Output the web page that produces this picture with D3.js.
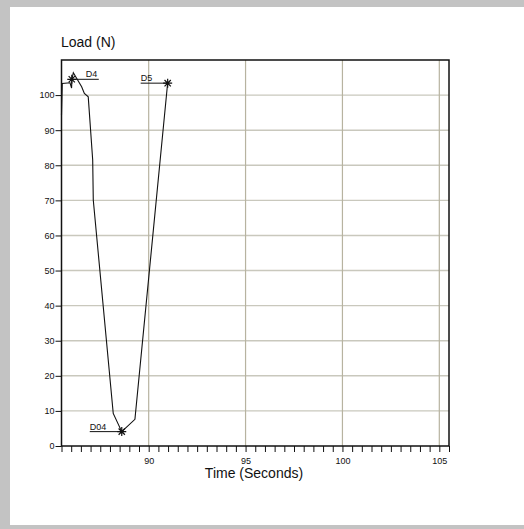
<!DOCTYPE html>
<html>
<head>
<meta charset="utf-8">
<script src="https://cdn.jsdelivr.net/npm/d3@7"></script>
<style>
  body { margin: 0; background: #c3c3c3; }
  text { font-family: "Liberation Sans", Arial, sans-serif; fill: #111; }
</style>
</head>
<body>
<div id="chart"></div>
<script>
// load curve
const times = [85.5, 85.54, 85.94, 86.02, 86.04, 86.11, 86.54, 86.68, 86.88, 87.11, 87.14, 88.17, 88.61, 89.29, 90.98]
const loads = [94.3, 103.3, 103.5, 102.0, 104.6, 106.4, 102.4, 100.5, 99.5, 81.5, 70.1, 9.3, 4.1, 7.6, 103.5]

// marked points
const markNames = ["D4", "D04", "D5"]
const markTimes = [86.03, 88.61, 90.98]
const markLoads = [104.5, 4.1, 103.4]
const markSide = [1, -1, -1]

const xMajor = [90, 95, 100, 105]
const yTicks = [0, 10, 20, 30, 40, 50, 60, 70, 80, 90, 100]

let width = 524, height = 529
let margin = { top: 60, right: 75, bottom: 83, left: 61.5 }

const svg = d3.select("#chart").append("svg")
  .attr("width", width)
  .attr("height", height)

svg.append("rect")
  .attr("x", 10).attr("y", 7)
  .attr("width", width - 10).attr("height", 518)
  .attr("fill", "white")

const x = d3.scaleLinear()
  .domain([85.5, 105.5])
  .range([margin.left, width - margin.right])

const y = d3.scaleLinear()
  .domain([0, 110])
  .range([height - margin.bottom, margin.top])

// grid
svg.append("g")
  .selectAll("line")
  .data(yTicks.filter(d => d > 0))
  .join("line")
  .attr("x1", x.range()[0]).attr("x2", x.range()[1])
  .attr("y1", d => y(d)).attr("y2", d => y(d))
  .attr("stroke", "#c9c8bd").attr("stroke-width", 1.4)

svg.append("g")
  .selectAll("line")
  .data(xMajor)
  .join("line")
  .attr("x1", d => x(d)).attr("x2", d => x(d))
  .attr("y1", y.range()[0]).attr("y2", y.range()[1])
  .attr("stroke", "#b7b3a0").attr("stroke-width", 1.2)

// axes
const minorTicks = d3.range(85.5, 105.51, 0.5)

svg.append("g")
  .attr("transform", `translate(0,${y(0)})`)
  .call(d3.axisBottom(x)
    .tickValues(minorTicks)
    .tickSize(6)
    .tickFormat(d => xMajor.includes(d) ? d : ""))
  .call(g => g.select(".domain").remove())
  .call(g => g.selectAll(".tick line").attr("stroke", "#111"))
  .call(g => g.selectAll(".tick text").attr("dy", "1.05em").style("font-size", "9px"))

svg.append("g")
  .attr("transform", `translate(${x.range()[0]},0)`)
  .call(d3.axisLeft(y)
    .tickValues(yTicks)
    .tickSize(6)
    .tickPadding(1))
  .call(g => g.select(".domain").remove())
  .call(g => g.selectAll(".tick line").attr("stroke", "#111"))
  .call(g => g.selectAll(".tick text").style("font-size", "9px"))

// frame
svg.append("rect")
  .attr("x", x.range()[0]).attr("y", y.range()[1])
  .attr("width", x.range()[1] - x.range()[0])
  .attr("height", y.range()[0] - y.range()[1])
  .attr("fill", "none").attr("stroke", "#111").attr("stroke-width", 1.5)

// curve
const pts = times.map((t, i) => [t, loads[i]])
svg.append("path")
  .datum(pts)
  .attr("fill", "none")
  .attr("stroke", "#111")
  .attr("stroke-width", 1.1)
  .attr("d", d3.line().x(d => x(d[0])).y(d => y(d[1])))

// markers and labels
const star = r => {
  const a = r * 0.7
  return `M0,${-r}V${r}M${-r},0H${r}M${-a},${-a}L${a},${a}M${-a},${a}L${a},${-a}`
}

const marks = svg.append("g")
  .selectAll("g")
  .data(markNames.map((n, i) => ({ n, t: markTimes[i], v: markLoads[i], s: markSide[i] })))
  .join("g")
  .attr("transform", d => `translate(${x(d.t)},${y(d.v)})`)

marks.append("path")
  .attr("d", star(4.5))
  .attr("stroke", "#111").attr("stroke-width", 1.2).attr("fill", "none")

marks.append("line")
  .attr("x1", 0).attr("y1", 0)
  .attr("x2", d => d.s > 0 ? 27 : (d.n === "D04" ? -32 : -27))
  .attr("y2", 0)
  .attr("stroke", "#111").attr("stroke-width", 1)

marks.append("text")
  .attr("x", d => d.s > 0 ? 14 : (d.n === "D04" ? -32 : -27))
  .attr("y", -2)
  .style("font-size", "9px")
  .text(d => d.n)

// titles
svg.append("text")
  .attr("x", 61).attr("y", 46.5)
  .style("font-size", "14px")
  .text("Load (N)")

svg.append("text")
  .attr("x", 254).attr("y", 478)
  .attr("text-anchor", "middle")
  .style("font-size", "14px")
  .text("Time (Seconds)")
</script>
</body>
</html>
